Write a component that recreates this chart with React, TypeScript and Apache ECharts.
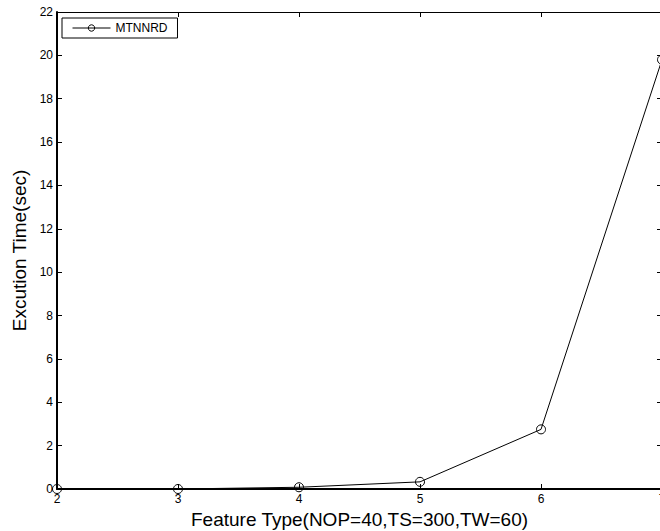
import React, { useEffect, useRef } from "react";
import * as echarts from "echarts";

const featureTypes = [2, 3, 4, 5, 6, 7];
const mtnnrdTimes = [0, 0, 0.08, 0.33, 2.75, 19.8];
const seriesName = "MTNNRD";
const xTitle = "Feature Type(NOP=40,TS=300,TW=60)";
const yTitle = "Excution Time(sec)";

export default function App() {
  const ref = useRef<HTMLDivElement>(null);
  useEffect(() => {
    const chart = echarts.init(ref.current!, null, { renderer: "svg" });
    const font = "'Liberation Sans', Arial, sans-serif";
    const data = featureTypes.map((x, i) => [x, mtnnrdTimes[i]]);
    chart.setOption({
      animation: false,
      backgroundColor: "#fff",
      textStyle: { fontFamily: font },
      grid: { left: 57, width: 605, top: 12, height: 477, outerBoundsMode: "none", containLabel: false },
      legend: {
        show: true,
        left: 62,
        top: 18,
        orient: "vertical",
        data: [seriesName],
        borderColor: "#000",
        borderWidth: 1,
        borderRadius: 0,
        padding: [4, 10, 4, 10],
        itemWidth: 38,
        itemHeight: 8,
        itemGap: 4,
        itemStyle: { borderWidth: 1, color: "rgba(0,0,0,0)", borderColor: "#000" },
        lineStyle: { width: 1, color: "#000" },
        textStyle: { fontFamily: font, fontSize: 12, color: "#000" },
        backgroundColor: "#fff",
      },
      xAxis: [
        {
          type: "value",
          min: 2,
          max: 7,
          interval: 1,
          position: "bottom",
          name: xTitle,
          nameLocation: "middle",
          nameGap: 21,
          nameTextStyle: { fontSize: 19, color: "#000", fontFamily: font },
          axisLine: { show: true, onZero: false, lineStyle: { color: "#000", width: 2 } },
          axisTick: { show: true, inside: true, length: 5, lineStyle: { color: "#000" } },
          axisLabel: { color: "#000", fontSize: 12, margin: 4, fontFamily: font },
          splitLine: { show: false },
        },
        {
          type: "value",
          min: 2,
          max: 7,
          interval: 1,
          position: "top",
          axisLine: { show: true, onZero: false, lineStyle: { color: "#000", width: 1 } },
          axisTick: { show: true, inside: true, length: 5, lineStyle: { color: "#000" } },
          axisLabel: { show: false },
          splitLine: { show: false },
        },
      ],
      yAxis: [
        {
          type: "value",
          min: 0,
          max: 22,
          interval: 2,
          position: "left",
          name: yTitle,
          nameLocation: "middle",
          nameGap: 27,
          nameTextStyle: { fontSize: 19, color: "#000", fontFamily: font },
          axisLine: { show: true, onZero: false, lineStyle: { color: "#000", width: 2 } },
          axisTick: { show: true, inside: true, length: 5, lineStyle: { color: "#000" } },
          axisLabel: { color: "#000", fontSize: 12, margin: 4, fontFamily: font },
          splitLine: { show: false },
        },
        {
          type: "value",
          min: 0,
          max: 22,
          interval: 2,
          position: "right",
          axisLine: { show: true, onZero: false, lineStyle: { color: "#000", width: 1 } },
          axisTick: { show: true, inside: true, length: 5, lineStyle: { color: "#000" } },
          axisLabel: { show: false },
          splitLine: { show: false },
        },
      ],
      series: [
        {
          name: seriesName,
          type: "line",
          data,
          xAxisIndex: 0,
          yAxisIndex: 0,
          symbol: "circle",
          symbolSize: 9,
          lineStyle: { color: "#000", width: 1 },
          itemStyle: { color: "rgba(0,0,0,0)", borderColor: "#000", borderWidth: 1 },
          clip: false,
        },
      ],
    });
    return () => chart.dispose();
  }, []);
  return (
    <div
      ref={ref}
      style={{ position: "fixed", left: 0, top: 0, width: 660, height: 531 }}
    />
  );
}
